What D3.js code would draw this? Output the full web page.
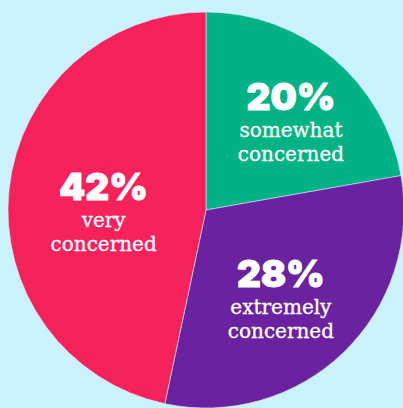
<!DOCTYPE html>
<html>
<head>
<meta charset="utf-8">
<script src="https://cdn.jsdelivr.net/npm/d3@7"></script>
<style>
  html, body { margin: 0; padding: 0; background: #cbf3ff; }
  svg { display: block; }
</style>
</head>
<body>
<div id="chart"></div>
<script>
// slices, clockwise from 12 o'clock
var names = ["somewhat", "extremely", "very"];
var values = [20, 28, 42];
var lineOne = ["somewhat", "extremely", "very"];
var lineTwo = ["concerned", "concerned", "concerned"];
var colors = ["#01b285", "#6b22a0", "#f7215c"];

draw_pie();

function draw_pie() {
    var width = 403,
        height = 408,
        radius = 198,
        cx = 206,
        cy = 210;

    // small nudges of each label block away from the plain centroid
    var nudge = [[11, -12], [-5, -6], [12, 2]];

    var arc = d3.arc()
        .outerRadius(radius)
        .innerRadius(0);

    var labelArc = d3.arc()
        .outerRadius(115)
        .innerRadius(115);

    var pie = d3.pie()
        .sort(null)
        .value(function (d) { return d.value; });

    var data = names.map(function (n, i) {
        return { name: n, value: values[i], l1: lineOne[i], l2: lineTwo[i], i: i };
    });

    var color = d3.scaleOrdinal().domain(names).range(colors);

    var svg = d3.select("#chart").append("svg")
        .attr("width", width)
        .attr("height", height)
        .append("g")
        .attr("transform", "translate(" + cx + "," + cy + ")");

    var g = svg.selectAll(".arc")
        .data(pie(data))
        .enter().append("g")
        .attr("class", "arc");

    g.append("path")
        .attr("d", arc)
        .style("fill", function (d) { return color(d.data.name); })
        .style("stroke", "#cbf3ff")
        .style("stroke-width", 0.6);

    var label = g.append("g")
        .attr("transform", function (d) {
            var c = labelArc.centroid(d);
            var n = nudge[d.data.i];
            return "translate(" + (c[0] + n[0]) + "," + (c[1] + n[1]) + ")";
        })
        .style("fill", "#ffffff")
        .style("text-anchor", "middle");

    label.append("text")
        .attr("y", 0)
        .style("font-family", "Inter, Lato, sans-serif")
        .style("font-weight", 900)
        .style("font-size", "37px")
        .style("stroke", "#ffffff")
        .style("stroke-width", 1)
        .text(function (d) { return d.data.value + "%"; });

    label.append("text")
        .attr("y", 27)
        .style("font-family", "'DejaVu Serif', serif")
        .style("font-size", "20px")
        .style("stroke", "#ffffff")
        .style("stroke-width", 0.3)
        .text(function (d) { return d.data.l1; });

    label.append("text")
        .attr("y", 51)
        .style("font-family", "'DejaVu Serif', serif")
        .style("font-size", "20px")
        .style("stroke", "#ffffff")
        .style("stroke-width", 0.3)
        .text(function (d) { return d.data.l2; });
}
</script>
</body>
</html>
